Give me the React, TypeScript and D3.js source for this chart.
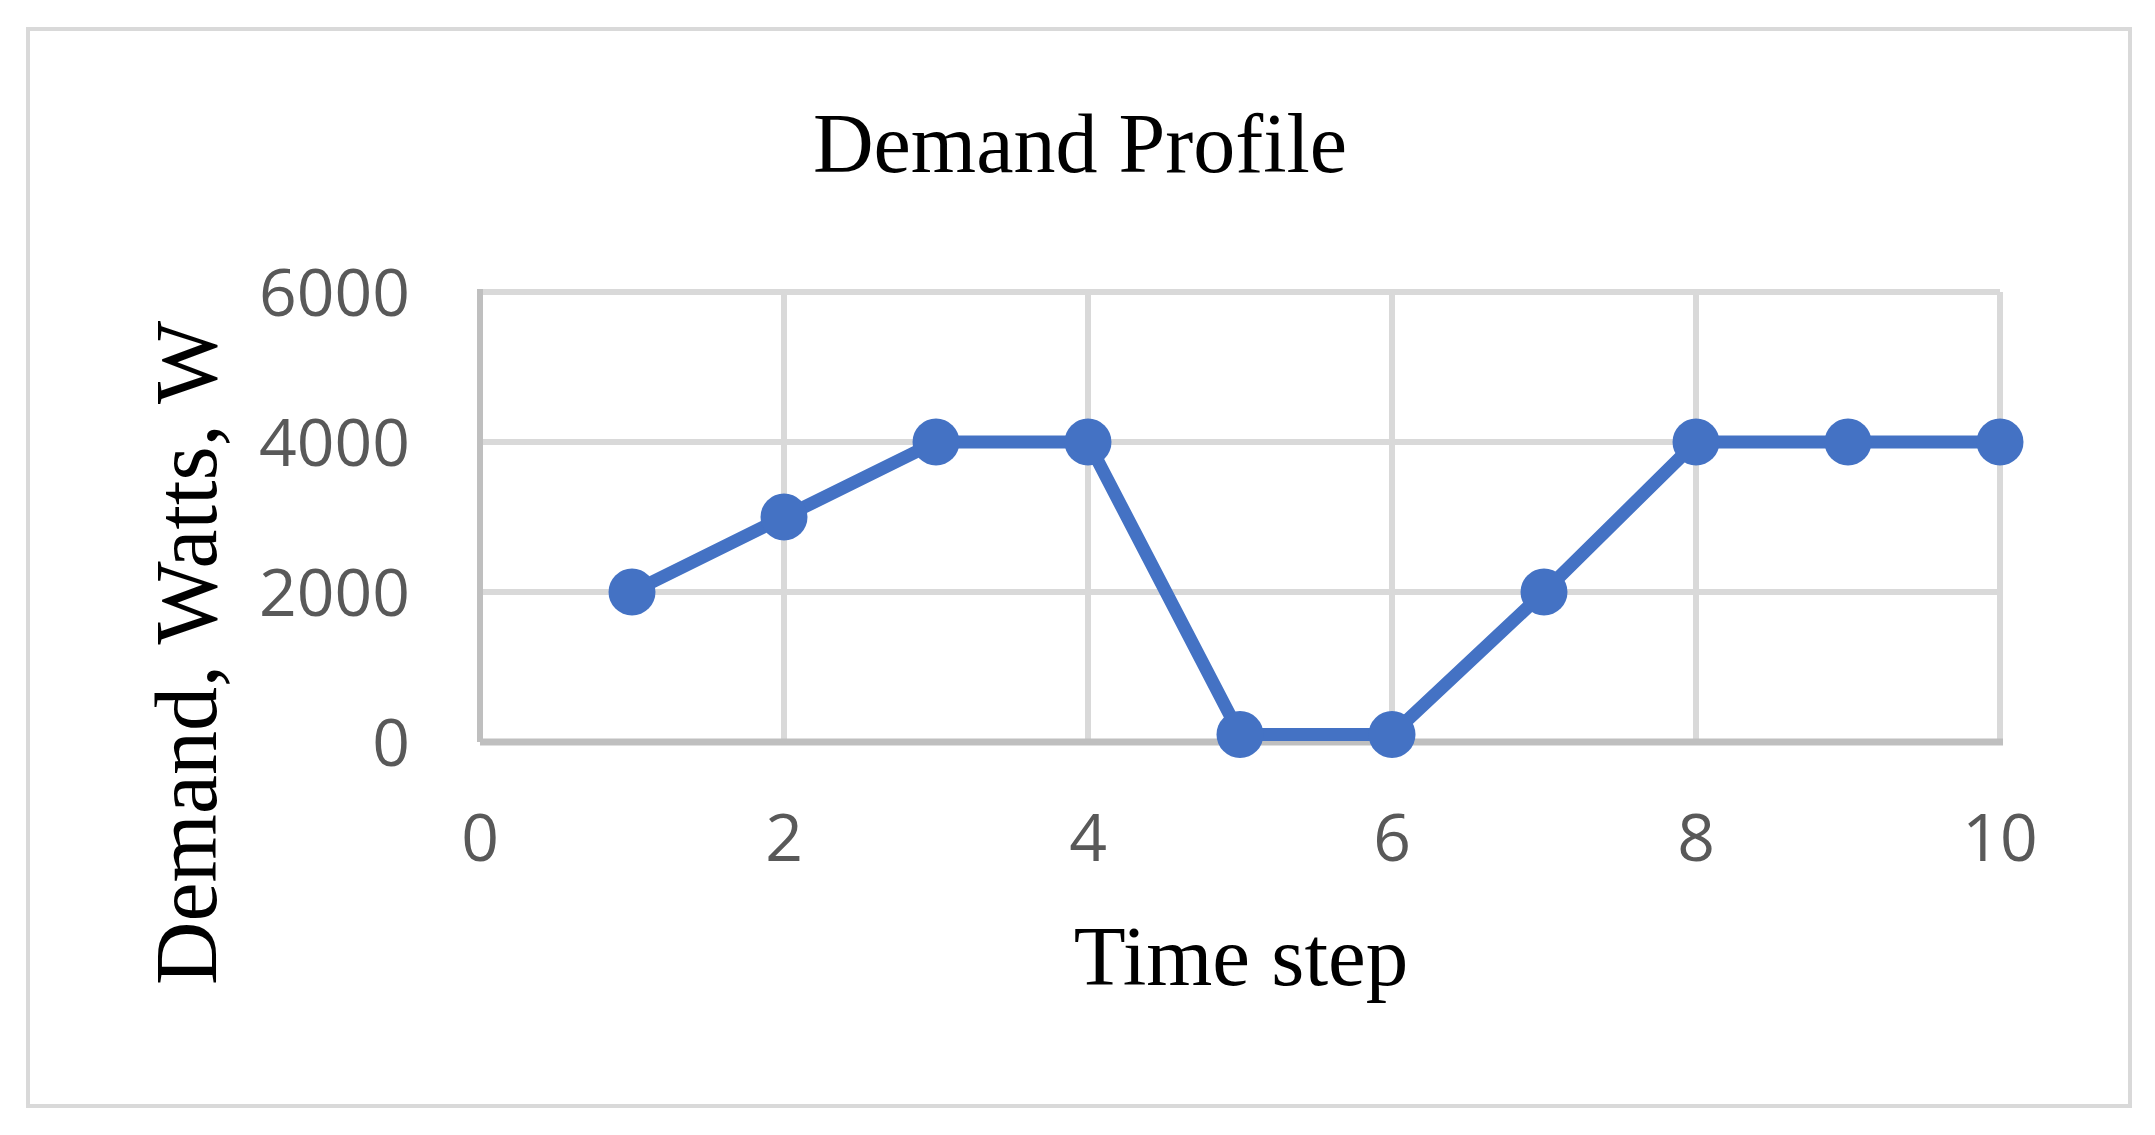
import React, { useRef, useEffect } from 'react';
import * as d3 from 'd3';

// data
const timeSteps = [1, 2, 3, 4, 5, 6, 7, 8, 9, 10];
const demand = [2000, 3000, 4000, 4000, 100, 100, 2000, 4000, 4000, 4000];
const xTicks = [0, 2, 4, 6, 8, 10];
const yTicks = [0, 2000, 4000, 6000];

const App = () => {
    const ref = useRef<SVGSVGElement>(null);

    useEffect(() => {
        const width = 2155;
        const height = 1135;
        const svg = d3.select(ref.current);
        svg.selectAll('*').remove();

        svg.append('rect').attr('width', width).attr('height', height).attr('fill', '#fff');

        // chart border
        svg.append('rect')
            .attr('x', 28).attr('y', 29)
            .attr('width', 2102).attr('height', 1077)
            .attr('fill', 'none')
            .attr('stroke', '#d9d9d9')
            .attr('stroke-width', 4);

        const x = d3.scaleLinear().domain([0, 10]).range([480, 2000]);
        const y = d3.scaleLinear().domain([0, 6000]).range([742, 292]);

        // grid
        svg.append('g').selectAll('line')
            .data(xTicks.filter(d => d > 0))
            .enter().append('line')
            .attr('x1', d => x(d)).attr('x2', d => x(d))
            .attr('y1', y(6000)).attr('y2', y(0))
            .attr('stroke', '#d9d9d9').attr('stroke-width', 6);
        svg.append('g').selectAll('line')
            .data(yTicks.filter(d => d > 0))
            .enter().append('line')
            .attr('x1', x(0)).attr('x2', x(10))
            .attr('y1', d => y(d)).attr('y2', d => y(d))
            .attr('stroke', '#d9d9d9').attr('stroke-width', 6);

        // axis lines
        svg.append('line')
            .attr('x1', x(0)).attr('x2', x(10) + 3)
            .attr('y1', y(0)).attr('y2', y(0))
            .attr('stroke', '#bfbfbf').attr('stroke-width', 7);
        svg.append('line')
            .attr('x1', x(0)).attr('x2', x(0))
            .attr('y1', y(6000) - 3).attr('y2', y(0))
            .attr('stroke', '#bfbfbf').attr('stroke-width', 6);

        // tick labels
        const tickFont = "'Open Sans', sans-serif";
        const tickSize = 66;
        svg.append('g').selectAll('text')
            .data(yTicks)
            .enter().append('text')
            .attr('x', 410)
            .attr('y', d => y(d) + 24)
            .attr('text-anchor', 'end')
            .attr('font-family', tickFont)
            .attr('font-size', tickSize)
            .attr('fill', '#595959')
            .text(d => String(d));
        svg.append('g').selectAll('text')
            .data(xTicks)
            .enter().append('text')
            .attr('x', d => x(d))
            .attr('y', 861)
            .attr('text-anchor', 'middle')
            .attr('font-family', tickFont)
            .attr('font-size', tickSize)
            .attr('fill', '#595959')
            .text(d => String(d));

        // series
        const line = d3.line<number>()
            .x((d, i) => x(timeSteps[i]))
            .y(d => y(d));
        svg.append('path')
            .datum(demand)
            .attr('d', line)
            .attr('fill', 'none')
            .attr('stroke', '#4472c4')
            .attr('stroke-width', 13)
            .attr('stroke-linejoin', 'round');
        svg.append('g').selectAll('circle')
            .data(demand)
            .enter().append('circle')
            .attr('cx', (d, i) => x(timeSteps[i]))
            .attr('cy', d => y(d))
            .attr('r', 23.5)
            .attr('fill', '#4472c4');

        // titles
        const serif = "'Liberation Serif', 'Times New Roman', serif";
        svg.append('text')
            .attr('x', 1080).attr('y', 172)
            .attr('text-anchor', 'middle')
            .attr('font-family', serif)
            .attr('font-size', 84)
            .attr('fill', '#000')
            .text('Demand Profile');
        svg.append('text')
            .attr('x', 1241).attr('y', 985)
            .attr('text-anchor', 'middle')
            .attr('font-family', serif)
            .attr('font-size', 85)
            .attr('fill', '#000')
            .text('Time step');
        svg.append('text')
            .attr('transform', 'translate(216,653) rotate(-90)')
            .attr('text-anchor', 'middle')
            .attr('font-family', serif)
            .attr('font-size', 88)
            .attr('fill', '#000')
            .text('Demand, Watts, W');
    }, []);

    return (
        <div>
            <style>{`body{margin:0;overflow:hidden}`}</style>
            <svg ref={ref} width={2155} height={1135} style={{ display: 'block' }} />
        </div>
    );
};

export default App;
